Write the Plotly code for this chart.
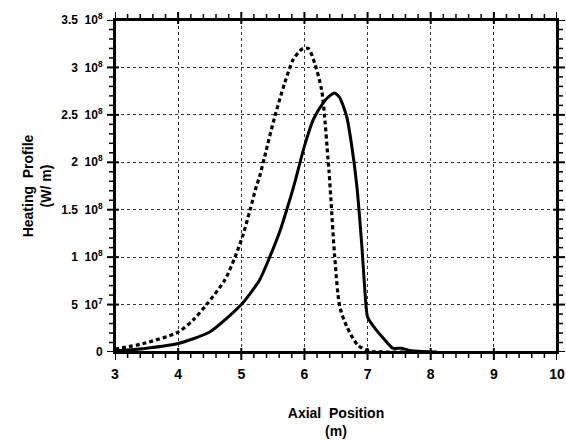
import plotly.graph_objects as go

# Data (y in units of 1e8 W/m)
dotted_x = [3.0, 3.45, 4.0, 4.24, 4.45, 4.74, 4.9, 5.03, 5.14, 5.24, 5.29, 5.37, 5.53, 5.69, 5.82, 5.92,
            5.98, 6.06, 6.16, 6.27, 6.32, 6.37, 6.39, 6.42, 6.48, 6.56, 6.67, 6.85, 7.03, 7.3, 7.6]
dotted_y = [0.03, 0.09, 0.21, 0.34, 0.5, 0.76, 1.0, 1.24, 1.5, 1.75, 1.85, 2.06, 2.48, 2.84, 3.08, 3.17,
            3.2, 3.2, 3.05, 2.77, 2.48, 2.06, 1.9, 1.6, 1.0, 0.48, 0.27, 0.07, 0.01, 0.0, 0.0]

solid_x = [3.0, 3.5, 4.0, 4.5, 5.0, 5.29, 5.45, 5.61, 5.72, 5.84, 6.0, 6.14, 6.30, 6.40, 6.48, 6.56,
           6.67, 6.75, 6.83, 6.91, 6.96, 7.0, 7.14, 7.27, 7.4, 7.54, 7.67, 7.9, 8.1]
solid_y = [0.01, 0.04, 0.09, 0.21, 0.5, 0.76, 1.0, 1.27, 1.5, 1.77, 2.17, 2.45, 2.63, 2.70, 2.73, 2.68,
           2.48, 2.17, 1.75, 1.11, 0.62, 0.37, 0.23, 0.13, 0.04, 0.04, 0.015, 0.005, 0.0]

y_tickvals = [0, 0.5e8, 1.0e8, 1.5e8, 2.0e8, 2.5e8, 3.0e8, 3.5e8]
y_ticktext = ["0", "5\u00a0\u00a010<sup>7</sup>", "1\u00a0\u00a010<sup>8</sup>", "1.5\u00a0\u00a010<sup>8</sup>",
              "2\u00a0\u00a010<sup>8</sup>", "2.5\u00a0\u00a010<sup>8</sup>", "3\u00a0\u00a010<sup>8</sup>",
              "3.5\u00a0\u00a010<sup>8</sup>"]
x_tickvals = [3, 4, 5, 6, 7, 8, 9, 10]

SCALE = 1e8
X_MINOR_STEP = 0.2
Y_MINOR_STEP = 1e7

# minor tick positions derived from the major tick lists
x_minor = []
for a, b in zip(x_tickvals[:-1], x_tickvals[1:]):
    n = int(round((b - a) / X_MINOR_STEP))
    x_minor += [a + i * X_MINOR_STEP for i in range(1, n)]
y_minor = []
for a, b in zip(y_tickvals[:-1], y_tickvals[1:]):
    n = int(round((b - a) / Y_MINOR_STEP))
    y_minor += [a + i * Y_MINOR_STEP for i in range(1, n)]

fig = go.Figure()
fig.add_trace(go.Scatter(x=dotted_x, y=[v * SCALE for v in dotted_y], mode="lines",
                         line=dict(color="black", width=3.2, dash="4px,3px", shape="spline", smoothing=0.8),
                         showlegend=False))
fig.add_trace(go.Scatter(x=solid_x, y=[v * SCALE for v in solid_y], mode="lines",
                         line=dict(color="black", width=3, shape="spline", smoothing=0.6),
                         showlegend=False))

# frame and tick marks drawn as shapes (axis decorations), placed on the axes' own scales
shapes = [dict(type="rect", xref="paper", yref="paper", x0=0, x1=1, y0=0, y1=1,
               line=dict(color="black", width=2), fillcolor="rgba(0,0,0,0)", layer="above")]

def xtick(v, anchor, p0, p1, w):
    return dict(type="line", xref="x", yref="paper", ysizemode="pixel", yanchor=anchor,
                x0=v, x1=v, y0=p0, y1=p1, line=dict(color="black", width=w), layer="above")

def ytick(v, anchor, p0, p1, w):
    return dict(type="line", yref="y", xref="paper", xsizemode="pixel", xanchor=anchor,
                y0=v, y1=v, x0=p0, x1=p1, line=dict(color="black", width=w), layer="above")

for v in x_tickvals:
    shapes.append(xtick(v, 0, 4, -8, 2))
    shapes.append(xtick(v, 1, -4, 8, 2))
for v in x_minor:
    shapes.append(xtick(v, 0, 0, -6, 1.5))
    shapes.append(xtick(v, 1, 0, 6, 1.5))
for v in y_tickvals:
    shapes.append(ytick(v, 0, 4, -8, 2))
    shapes.append(ytick(v, 1, -4, 8, 2))
for v in y_minor:
    shapes.append(ytick(v, 0, 0, -6, 1.5))
    shapes.append(ytick(v, 1, 0, 6, 1.5))

font = dict(family="Liberation Sans, Arial, sans-serif", color="black", size=12, weight="bold")

fig.update_layout(
    width=566, height=440,
    margin=dict(l=115, r=9, t=20, b=88),
    plot_bgcolor="white", paper_bgcolor="white",
    font=font,
    showlegend=False,
    shapes=shapes,
)
fig.update_xaxes(
    range=[3, 10], tickvals=x_tickvals, ticktext=[str(v) for v in x_tickvals],
    automargin=False,
    showline=True, linecolor="black", linewidth=2, mirror=True,
    ticks="outside", ticklen=8, tickwidth=2, tickcolor="rgba(0,0,0,0)",
    showgrid=True, gridcolor="#333333", gridwidth=1, griddash="dot",
    zeroline=False, tickfont=dict(size=14),
    title=dict(text="Axial\u00a0\u00a0Position<br>(m)", font=dict(size=14), standoff=27),
)
fig.update_yaxes(
    range=[0, 3.5e8], tickvals=y_tickvals, ticktext=y_ticktext,
    automargin=False,
    showline=True, linecolor="black", linewidth=2, mirror=True,
    ticks="outside", ticklen=8, tickwidth=2, tickcolor="rgba(0,0,0,0)",
    showgrid=True, gridcolor="#333333", gridwidth=1, griddash="dot",
    zeroline=False, tickfont=dict(size=12),
    title=dict(text="Heating\u00a0\u00a0Profile<br>(W/\u00a0m)", font=dict(size=14), standoff=6),
)

fig.write_html("out.html", config={"displayModeBar": False},
               post_script="document.body.style.margin='0';document.body.style.overflow='hidden';")
